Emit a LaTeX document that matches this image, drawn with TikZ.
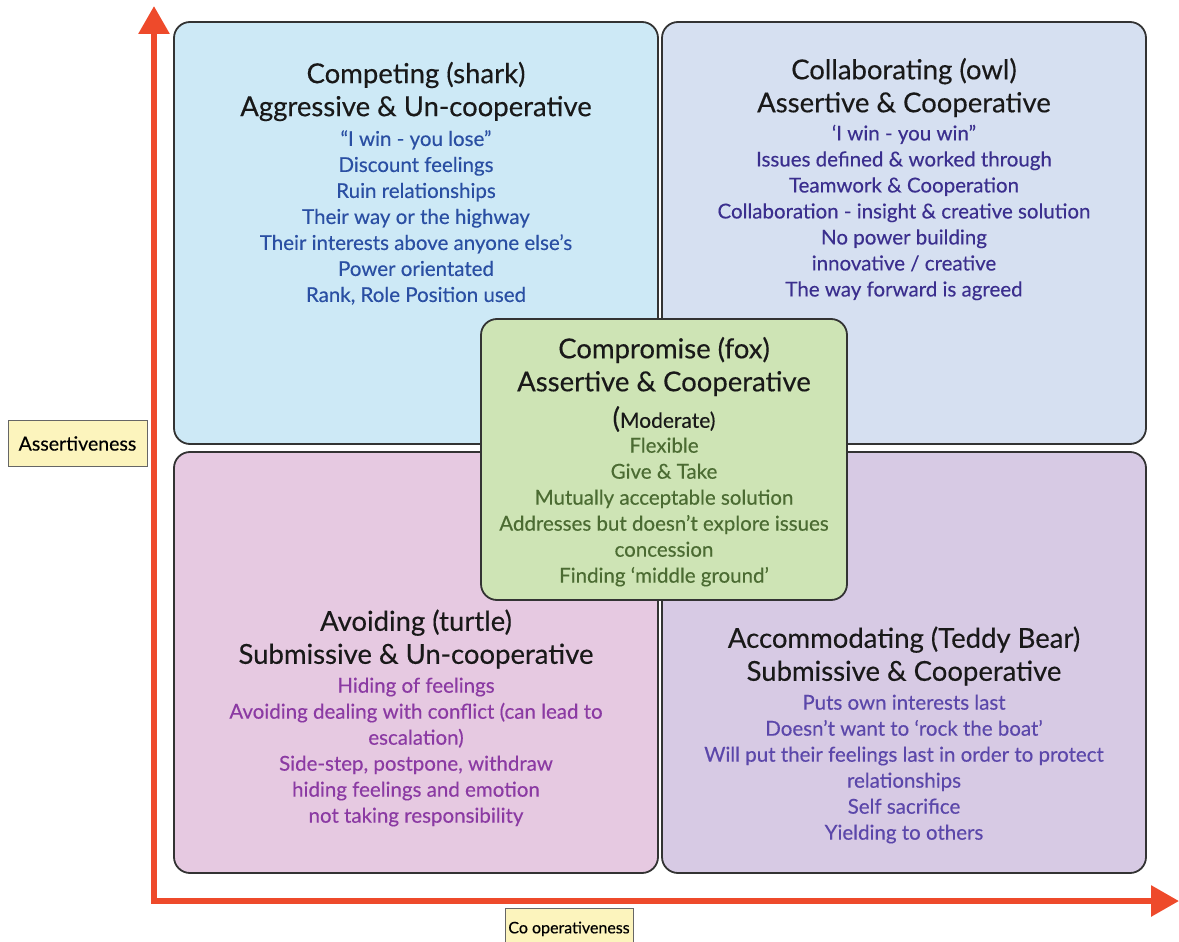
\documentclass[tikz,border=0pt]{standalone}
\usepackage{fontspec}
\setmainfont{Lato}[FakeBold=0.3]
\usetikzlibrary{arrows.meta}
\definecolor{axisred}{HTML}{EE4A2B}
\definecolor{tlfill}{HTML}{CDE9F6}
\definecolor{trfill}{HTML}{D6E0F1}
\definecolor{blfill}{HTML}{E6C9E1}
\definecolor{brfill}{HTML}{D7CAE4}
\definecolor{cfill}{HTML}{CEE4B5}
\definecolor{tltext}{HTML}{2A4FA3}
\definecolor{trtext}{HTML}{3B2F8E}
\definecolor{ctext}{HTML}{4B6B32}
\definecolor{bltext}{HTML}{8B3AA3}
\definecolor{brtext}{HTML}{5B47AA}
\definecolor{lblfill}{HTML}{FCF4BD}
\tikzset{
  quad/.style={draw=black!80, line width=1.8pt, rounded corners=16pt, inner sep=0pt},
  ttl/.style={font=\fontsize{27.5}{33}\selectfont, align=center, text=black!90, inner sep=0pt},
  itm/.style={font=\fontsize{20.5}{26}\selectfont, align=center, inner sep=0pt},
  lbl/.style={draw=black!60, line width=1pt, fill=lblfill, inner sep=0pt},
  axis/.style={draw=axisred, line width=6pt, {Triangle[length=28pt,width=30pt]}-{Triangle[length=28pt,width=30pt]}}
}
\begin{document}
\begin{tikzpicture}[x=1pt,y=-1pt]
\useasboundingbox (0,0) rectangle (1179,942);
% axes
\coordinate (origin) at (154,901);
\coordinate (ytip) at (154,6);
\coordinate (xtip) at (1179,901);
\draw[axis] (ytip) -- (origin) -- (xtip);
% quadrants
\node[quad, fill=tlfill, minimum width=484pt, minimum height=422pt] (tl) at (416,233) {};
\node[quad, fill=trfill, minimum width=484pt, minimum height=422pt] (tr) at (904,233) {};
\node[quad, fill=blfill, minimum width=484pt, minimum height=421pt] (bl) at (416,662.5) {};
\node[quad, fill=brfill, minimum width=484pt, minimum height=421pt] (br) at (904,662.5) {};
\node[quad, fill=cfill, minimum width=366pt, minimum height=281pt] (c) at (664,459.5) {};
% top left
\node[ttl] (tlt) at (416,91.5) {Competing (shark)\\Aggressive \& Un-cooperative};
\node[itm, text=tltext] (tli) at (416,217.5) {“I win - you lose”\\Discount feelings\\Ruin relationships\\Their way or the highway\\Their interests above anyone else’s\\Power orientated\\Rank, Role Position used};
% top right
\node[ttl] (trt) at (904,87.5) {Collaborating (owl)\\Assertive \& Cooperative};
\node[itm, text=trtext] (tri) at (904,212.5) {‘I win - you win”\\Issues defined \& worked through\\Teamwork \& Cooperation\\Collaboration - insight \& creative solution\\No power building\\innovative / creative\\The way forward is agreed};
% bottom left
\node[ttl] (blt) at (416,639) {Avoiding (turtle)\\Submissive \& Un-cooperative};
\node[itm, text=bltext] (bli) at (416,752) {Hiding of feelings\\Avoiding dealing with conflict (can lead to\\escalation)\\Side-step, postpone, withdraw\\hiding feelings and emotion\\not taking responsibility};
% bottom right
\node[ttl] (brt) at (904,656) {Accommodating (Teddy Bear)\\Submissive \& Cooperative};
\node[itm, text=brtext] (bri) at (904,769) {Puts own interests last\\Doesn’t want to ‘rock the boat’\\Will put their feelings last in order to protect\\relationships\\Self sacrifice\\Yielding to others};
% centre
\node[ttl] (ct) at (664,366.5) {Compromise (fox)\\Assertive \& Cooperative};
\node[inner sep=0pt, text=black!90] (cm) at (664,419) {{\fontsize{28}{30}\selectfont(}{\fontsize{21}{24}\selectfont Moderate)}};
\node[itm, text=ctext] (ci) at (664,512) {Flexible\\Give \& Take\\Mutually acceptable solution\\Addresses but doesn’t explore issues\\concession\\Finding ‘middle ground’};
% axis labels
\node[lbl, minimum width=139pt, minimum height=46pt, font=\fontsize{19.5}{22}\selectfont] (ya) at (77.5,443.5) {Assertiveness};
\node[lbl, minimum width=128pt, minimum height=44pt, font=\fontsize{16}{20}\selectfont, anchor=north, text depth=0pt] (xa) at (569,908) {\raisebox{6pt}{Co operativeness}};
\end{tikzpicture}
\end{document}
